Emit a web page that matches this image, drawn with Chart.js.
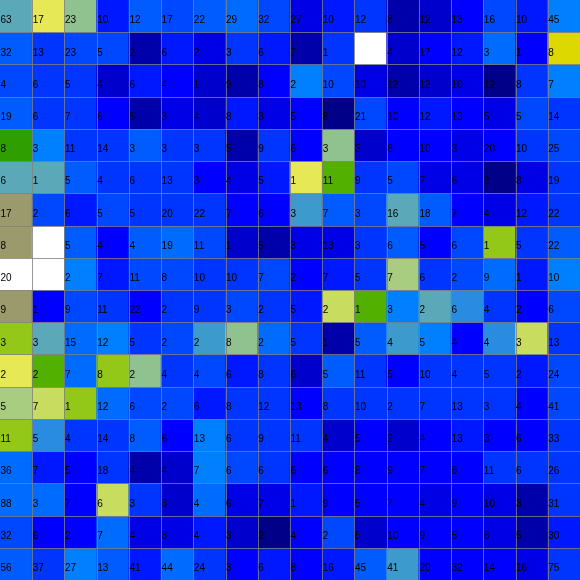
<!DOCTYPE html>
<html>
<head>
<meta charset="utf-8">
<script src="https://cdn.jsdelivr.net/npm/chart.js@4.4.1/dist/chart.umd.min.js"></script>
<style>
  body { margin: 0; background: #ffffff; }
</style>
</head>
<body>
<canvas id="heatChart" width="580" height="580"></canvas>
<script>
// column categories (no labels shown on the chart)
var cols = [0, 1, 2, 3, 4, 5, 6, 7, 8, 9, 10, 11, 12, 13, 14, 15, 16, 17];

// number printed in each cell, one list per row (null = empty cell)
var row0  = [63, 17, 23, 10, 12, 17, 22, 29, 32, 27, 10, 12, 8, 12, 13, 16, 10, 45];
var row1  = [32, 13, 23, 5, 2, 6, 2, 3, 6, 7, 1, null, 4, 17, 12, 3, 1, 8];
var row2  = [4, 6, 5, 4, 6, 4, 1, 9, 8, 2, 10, 10, 12, 12, 10, 12, 8, 7];
var row3  = [19, 6, 7, 6, 5, 3, 4, 8, 3, 5, 8, 21, 10, 12, 13, 5, 5, 14];
var row4  = [8, 3, 11, 14, 3, 3, 3, 5, 9, 6, 3, 3, 8, 10, 3, 20, 10, 25];
var row5  = [6, 1, 5, 4, 6, 13, 3, 4, 5, 1, 11, 9, 5, 7, 6, 2, 8, 19];
var row6  = [17, 2, 6, 5, 5, 20, 22, 7, 6, 3, 7, 3, 16, 18, 7, 4, 12, 22];
var row7  = [8, null, 5, 4, 4, 19, 11, 1, 5, 3, 13, 3, 6, 5, 6, 1, 5, 22];
var row8  = [20, null, 2, 7, 11, 8, 10, 10, 7, 2, 7, 5, 7, 6, 2, 9, 1, 10];
var row9  = [9, 1, 9, 11, 22, 2, 9, 3, 2, 5, 2, 1, 3, 2, 6, 4, 2, 6];
var row10 = [3, 3, 15, 12, 5, 2, 2, 8, 2, 5, 1, 5, 4, 5, 4, 4, 3, 13];
var row11 = [2, 2, 7, 8, 2, 4, 4, 6, 8, 6, 5, 11, 5, 10, 4, 5, 2, 24];
var row12 = [5, 7, 1, 12, 6, 2, 6, 8, 12, 13, 8, 10, 2, 7, 13, 3, 4, 41];
var row13 = [11, 5, 4, 14, 8, 6, 13, 6, 9, 11, 4, 5, 2, 4, 13, 3, 6, 33];
var row14 = [36, 7, 5, 18, 4, 4, 7, 6, 6, 6, 6, 8, 9, 7, 8, 11, 6, 26];
var row15 = [88, 3, 7, 6, 3, 3, 4, 6, 7, 1, 9, 5, 7, 4, 9, 10, 3, 31];
var row16 = [32, 6, 2, 7, 4, 3, 4, 3, 2, 4, 2, 5, 10, 9, 5, 6, 5, 30];
var row17 = [56, 37, 27, 13, 41, 44, 24, 3, 6, 8, 16, 45, 41, 20, 32, 14, 16, 75];
var values = [row0, row1, row2, row3, row4, row5, row6, row7, row8,
              row9, row10, row11, row12, row13, row14, row15, row16, row17];

// colour level of each cell (index into the palette below)
var lev0  = [13, 21, 14, 5, 8, 7, 8, 9, 7, 3, 5, 6, 1, 2, 4, 7, 5, 10];
var lev1  = [8, 6, 7, 7, 1, 5, 3, 6, 5, 1, 6, 23, 2, 4, 5, 9, 4, 22];
var lev2  = [7, 6, 6, 2, 5, 4, 2, 1, 4, 10, 7, 3, 1, 2, 3, 0, 6, 10];
var lev3  = [8, 6, 6, 4, 1, 3, 2, 5, 3, 4, 0, 7, 4, 5, 4, 3, 7, 6];
var lev4  = [18, 10, 6, 6, 8, 6, 6, 1, 6, 4, 14, 2, 4, 4, 3, 4, 6, 7];
var lev5  = [13, 13, 8, 6, 6, 6, 4, 3, 5, 21, 17, 6, 7, 3, 3, 0, 3, 6];
var lev6  = [16, 7, 5, 7, 6, 6, 6, 4, 4, 12, 8, 7, 13, 8, 4, 3, 5, 6];
var lev7  = [16, 23, 8, 4, 8, 9, 7, 2, 1, 3, 3, 6, 8, 4, 7, 19, 6, 8];
var lev8  = [23, 23, 10, 5, 7, 7, 6, 6, 7, 4, 5, 6, 15, 6, 7, 9, 5, 10];
var lev9  = [16, 4, 7, 6, 4, 6, 6, 7, 6, 5, 20, 17, 10, 13, 11, 6, 4, 7];
var lev10 = [19, 13, 9, 10, 6, 7, 12, 14, 9, 6, 1, 8, 12, 10, 4, 11, 20, 6];
var lev11 = [21, 17, 9, 19, 14, 6, 7, 5, 6, 2, 8, 6, 4, 6, 6, 6, 5, 7];
var lev12 = [15, 20, 19, 9, 7, 7, 5, 6, 6, 4, 6, 6, 6, 6, 6, 6, 4, 7];
var lev13 = [19, 11, 6, 6, 8, 4, 10, 6, 6, 6, 2, 4, 2, 4, 5, 4, 4, 6];
var lev14 = [9, 5, 4, 6, 1, 2, 10, 7, 6, 4, 4, 4, 4, 4, 4, 6, 6, 6];
var lev15 = [9, 9, 4, 20, 6, 2, 9, 3, 3, 5, 4, 4, 4, 3, 4, 3, 1, 6];
var lev16 = [7, 4, 4, 9, 3, 3, 5, 2, 0, 4, 7, 2, 4, 4, 4, 3, 1, 5];
var lev17 = [8, 6, 10, 8, 5, 9, 6, 4, 5, 4, 5, 8, 12, 4, 4, 4, 3, 6];
var levels = [lev0, lev1, lev2, lev3, lev4, lev5, lev6, lev7, lev8,
              lev9, lev10, lev11, lev12, lev13, lev14, lev15, lev16, lev17];

var palette = [
    "#000088", "#0000aa", "#0000cc", "#0000e6", "#0000ff", "#0018ff",
    "#0034ff", "#0048ff", "#005cff", "#006cff", "#0080ff", "#2a8ce0",
    "#3d9acc", "#5aa8b8", "#90c290", "#a8cc80", "#9a9a6c", "#52b000",
    "#2e9e00", "#94c818", "#c8dc60", "#e6e855", "#dcd800", "#ffffff"
];

// thin grey cell borders + numbers, both placed from the chart's own scales
var cellLabels = {
    id: "cellLabels",
    afterDatasetsDraw: function (chart) {
        var c = chart.ctx;
        var xs = chart.scales.x, ys = chart.scales.y;
        var area = chart.chartArea;
        var step = xs.getPixelForValue(1) - xs.getPixelForValue(0);

        c.save();
        c.strokeStyle = "rgba(128,128,128,0.8)";
        c.lineWidth = 1;
        c.beginPath();
        for (var k = 1; k < values.length; k++) {
            var py = Math.round(ys.getPixelForValue(k)) + 0.5;
            c.moveTo(area.left, py);
            c.lineTo(area.right, py);
        }
        for (var j = 1; j < cols.length; j++) {
            var px = Math.round(xs.getPixelForValue(j) - step / 2) + 0.5;
            c.moveTo(px, area.top);
            c.lineTo(px, area.bottom);
        }
        c.stroke();

        c.font = "10px 'Liberation Sans', Arial, sans-serif";
        c.fillStyle = "#000000";
        c.textAlign = "left";
        c.textBaseline = "middle";
        chart.data.datasets.forEach(function (ds, r) {
            var meta = chart.getDatasetMeta(r);
            meta.data.forEach(function (bar, i) {
                var v = values[r][i];
                if (v === null) return;
                var top = Math.min(bar.y, bar.base);
                var h = Math.abs(bar.base - bar.y);
                var left = bar.x - bar.width / 2;
                c.fillText(String(v), left + 0.5, top + h * 0.64);
            });
        });
        c.restore();
    }
};

document.addEventListener("DOMContentLoaded", function () {
    var ctx = document.getElementById("heatChart").getContext("2d");

    var datasets = values.map(function (row, r) {
        return {
            label: "row " + r,
            data: row.map(function () { return [r, r + 1]; }),
            backgroundColor: levels[r].map(function (l) { return palette[l]; }),
            borderWidth: 0,
            grouped: false,
            barPercentage: 1,
            categoryPercentage: 1
        };
    });

    new Chart(ctx, {
        type: "bar",
        data: { labels: cols, datasets: datasets },
        options: {
            responsive: false,
            animation: false,
            layout: { padding: 0 },
            plugins: { legend: { display: false }, tooltip: { enabled: false } },
            scales: {
                x: { display: false, offset: true },
                y: { display: false, min: 0, max: 18, reverse: true }
            }
        },
        plugins: [cellLabels]
    });
});
</script>
</body>
</html>
